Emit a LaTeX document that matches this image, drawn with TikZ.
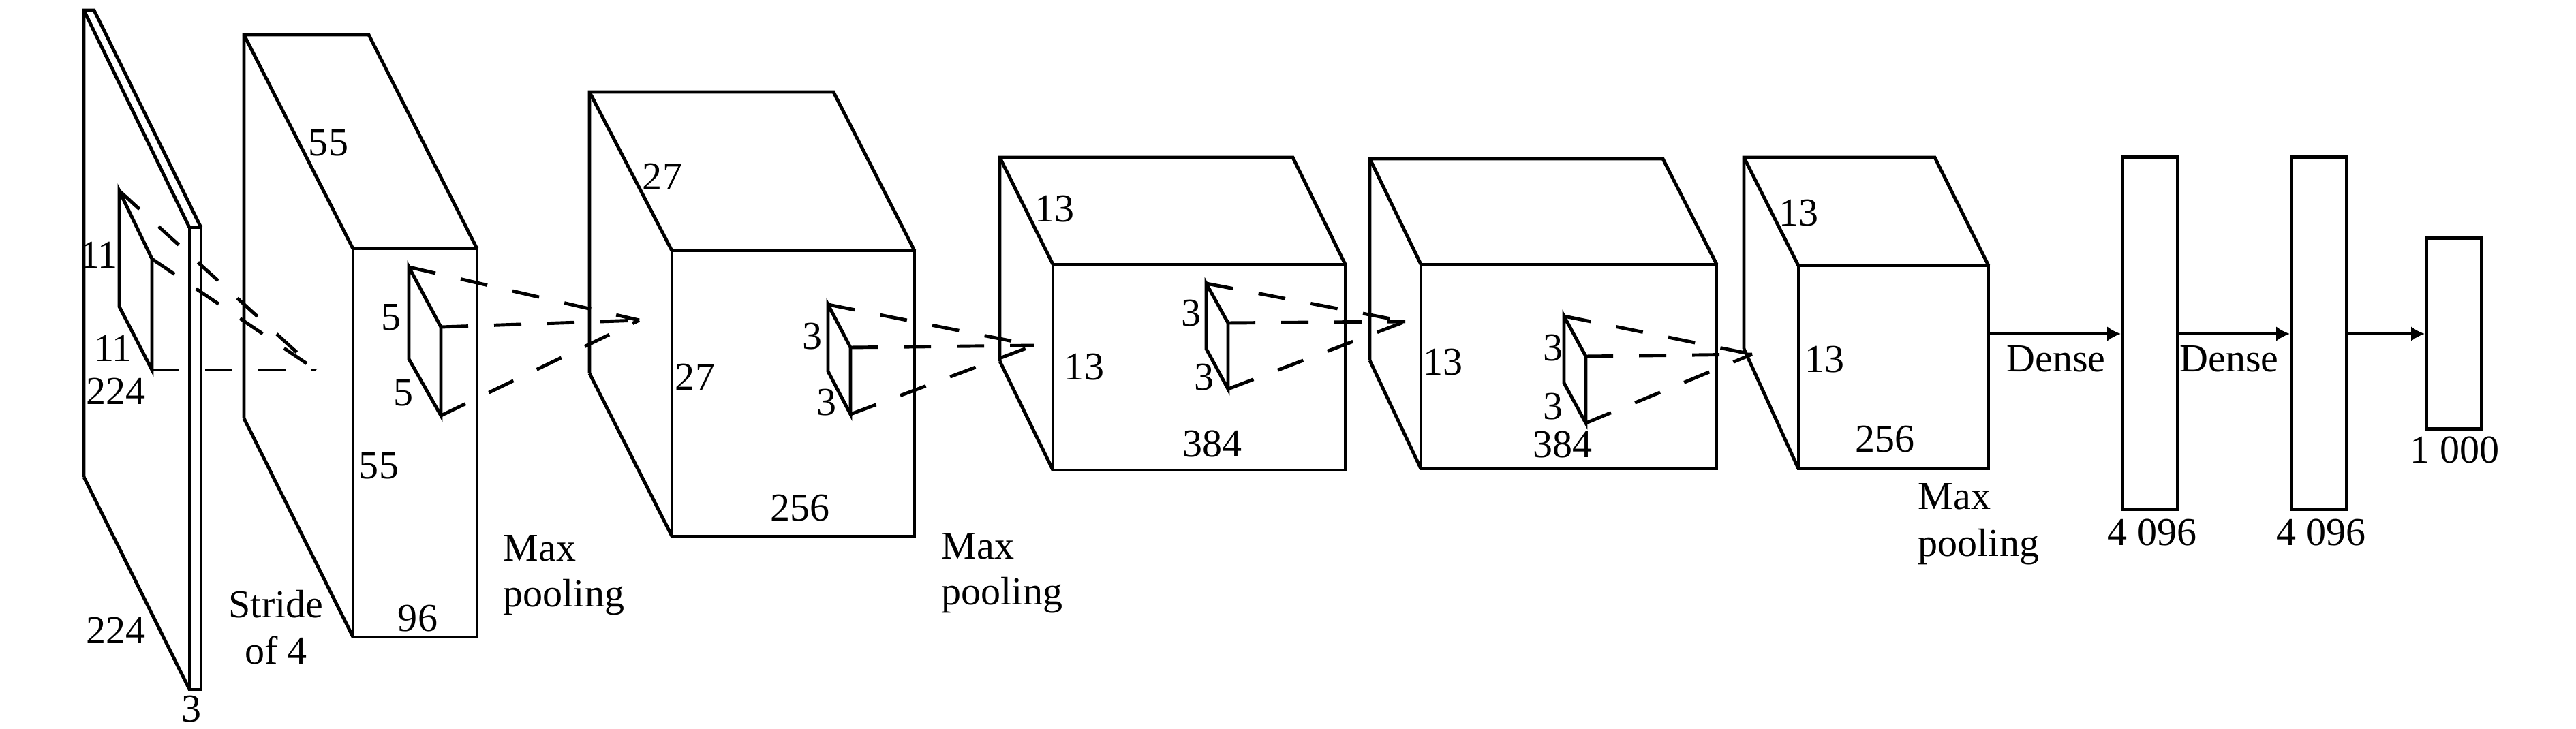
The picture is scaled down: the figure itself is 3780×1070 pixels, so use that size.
\documentclass[tikz,border=0pt]{standalone}
\usepackage{fontspec}
\setmainfont{Liberation Serif}
\usetikzlibrary{arrows.meta}
\begin{document}
\begin{tikzpicture}[x=0.01cm,y=-0.01cm,
  edge/.style={line width=1.4pt, line join=miter},
  kern/.style={line width=1.4pt, line join=miter},
  dashln/.style={line width=1.4pt, dash pattern=on 0.4cm off 0.38cm},
  lbl/.style={inner sep=0pt, font=\fontsize{16.5pt}{19pt}\selectfont},
  lblw/.style={lbl, anchor=base west},
  lblb/.style={lbl, anchor=base},
  fcbox/.style={draw, line width=1.4pt, inner sep=0pt, minimum width=0.81cm},
  arr/.style={line width=1.4pt, -{Latex[length=0.2cm,width=0.22cm]}}
]
\useasboundingbox (0,0) rectangle (3780,1070);

% ---------- Layer 1: input 224x224x3 ----------
\draw[edge] (278,334) rectangle (295,1012);
\draw[edge] (123,700) -- (123,15) -- (138,15) -- (295,334);
\draw[edge] (123,15) -- (278,334);
\draw[edge] (123,700) -- (278,1012);
\coordinate (k1a) at (175,280);
\coordinate (k1b) at (223,380);
\coordinate (k1c) at (223,543);
\coordinate (k1d) at (175,450);
\coordinate (ap1) at (464,543);
\draw[kern] (k1a) -- (k1b) -- (k1c) -- (k1d) -- cycle;
\draw[dashln] (k1a) -- (ap1);
\draw[dashln] (k1b) -- (ap1);
\draw[dashln] (k1c) -- (ap1);
\node[lbl] (t11a) at (145,374) {11};
\node[lbl] (t11b) at (166,511) {11};
\node[lbl] (t224a) at (170,574) {224};
\node[lbl] (t224b) at (170,925) {224};
\node[lbl] (t3) at (281,1041) {3};

% ---------- Layer 2: 55x55x96 ----------
\draw[edge] (518,365) rectangle (700,935);
\draw[edge] (358,614) -- (358,51) -- (541,51) -- (700,365);
\draw[edge] (358,51) -- (518,365);
\draw[edge] (358,614) -- (518,935);
\coordinate (k2a) at (600,392);
\coordinate (k2b) at (647,480);
\coordinate (k2c) at (647,610);
\coordinate (k2d) at (600,527);
\coordinate (ap2) at (938,470);
\draw[kern] (k2a) -- (k2b) -- (k2c) -- (k2d) -- cycle;
\draw[dashln] (k2a) -- (ap2);
\draw[dashln] (k2b) -- (ap2);
\draw[dashln] (k2c) -- (ap2);
\node[lbl] (t55a) at (482,210) {55};
\node[lbl] (t55b) at (556,684) {55};
\node[lbl] (t96) at (613,908) {96};
\node[lbl] (t5a) at (574,466) {5};
\node[lbl] (t5b) at (592,577) {5};
\node[lblb] (tstr1) at (405,906) {Stride};
\node[lblb] (tstr2) at (405,974) {of 4};
\node[lblw] (tmp1a) at (738,823) {Max};
\node[lblw] (tmp1b) at (738,890) {pooling};

% ---------- Layer 3: 27x27x256 ----------
\draw[edge] (986,368) rectangle (1342,787);
\draw[edge] (865,548) -- (865,135) -- (1223,135) -- (1342,368);
\draw[edge] (865,135) -- (986,368);
\draw[edge] (865,548) -- (986,787);
\coordinate (k3a) at (1215,447);
\coordinate (k3b) at (1248,510);
\coordinate (k3c) at (1248,608);
\coordinate (k3d) at (1215,545);
\coordinate (ap3) at (1517,507);
\draw[kern] (k3a) -- (k3b) -- (k3c) -- (k3d) -- cycle;
\draw[dashln] (k3a) -- (ap3);
\draw[dashln] (k3b) -- (ap3);
\draw[dashln] (k3c) -- (ap3);
\node[lbl] (t27a) at (972,259) {27};
\node[lbl] (t27b) at (1020,553) {27};
\node[lbl] (t256a) at (1174,746) {256};
\node[lbl] (t3a) at (1192,494) {3};
\node[lbl] (t3b) at (1213,591) {3};
\node[lblw] (tmp2a) at (1381,820) {Max};
\node[lblw] (tmp2b) at (1381,887) {pooling};

% ---------- Layer 4: 13x13x384 ----------
\draw[edge] (1545,388) rectangle (1974,690);
\draw[edge] (1467,530) -- (1467,231) -- (1897,231) -- (1974,388);
\draw[edge] (1467,231) -- (1545,388);
\draw[edge] (1467,530) -- (1545,690);
\coordinate (k4a) at (1770,416);
\coordinate (k4b) at (1802,474);
\coordinate (k4c) at (1802,571);
\coordinate (k4d) at (1770,512);
\coordinate (ap4) at (2062,472);
\draw[kern] (k4a) -- (k4b) -- (k4c) -- (k4d) -- cycle;
\draw[dashln] (k4a) -- (ap4);
\draw[dashln] (k4b) -- (ap4);
\draw[dashln] (k4c) -- (ap4);
\node[lbl] (t13a) at (1547,307) {13};
\node[lbl] (t13b) at (1591,539) {13};
\node[lbl] (t384a) at (1779,651) {384};
\node[lbl] (t3c) at (1748,460) {3};
\node[lbl] (t3d) at (1767,554) {3};

% ---------- Layer 5: 13x13x384 ----------
\draw[edge] (2085,388) rectangle (2519,688);
\draw[edge] (2010,529) -- (2010,233) -- (2440,233) -- (2519,388);
\draw[edge] (2010,233) -- (2085,388);
\draw[edge] (2010,529) -- (2085,688);
\coordinate (k5a) at (2295,464);
\coordinate (k5b) at (2327,523);
\coordinate (k5c) at (2327,621);
\coordinate (k5d) at (2295,562);
\coordinate (ap5) at (2571,520);
\draw[kern] (k5a) -- (k5b) -- (k5c) -- (k5d) -- cycle;
\draw[dashln] (k5a) -- (ap5);
\draw[dashln] (k5b) -- (ap5);
\draw[dashln] (k5c) -- (ap5);
\node[lbl] (t13c) at (2117,532) {13};
\node[lbl] (t384b) at (2293,652) {384};
\node[lbl] (t3e) at (2279,511) {3};
\node[lbl] (t3f) at (2279,597) {3};

% ---------- Layer 6: 13x13x256 ----------
\draw[edge] (2639,390) rectangle (2918,688);
\draw[edge] (2559,512) -- (2559,231) -- (2839,231) -- (2918,390);
\draw[edge] (2559,231) -- (2639,390);
\draw[edge] (2559,512) -- (2639,688);
\coordinate (l6out) at (2918,490);
\node[lbl] (t13d) at (2639,313) {13};
\node[lbl] (t13e) at (2677,528) {13};
\node[lbl] (t256b) at (2766,645) {256};
\node[lblw] (tmp3a) at (2814,747) {Max};
\node[lblw] (tmp3b) at (2814,816) {pooling};

% ---------- Dense layers ----------
\node[fcbox, minimum height=5.16cm] (fc1) at (3155,489) {};
\node[fcbox, minimum height=5.16cm] (fc2) at (3403,489) {};
\node[fcbox, minimum height=2.79cm] (fc3) at (3601,489.5) {};
\draw[arr] (l6out) -- (l6out -| fc1.west);
\draw[arr] (fc1.east |- l6out) -- (fc2.west |- l6out);
\draw[arr] (fc2.east |- l6out) -- (fc3.west |- l6out);
\node[lbl] (tdense1) at (3017,527) {Dense};
\node[lbl] (tdense2) at (3271,527) {Dense};
\node[lbl] (tfc1) at (3158,781) {4 096};
\node[lbl] (tfc2) at (3406,781) {4 096};
\node[lbl] (tfc3) at (3602,660) {1 000};
\end{tikzpicture}
\end{document}
